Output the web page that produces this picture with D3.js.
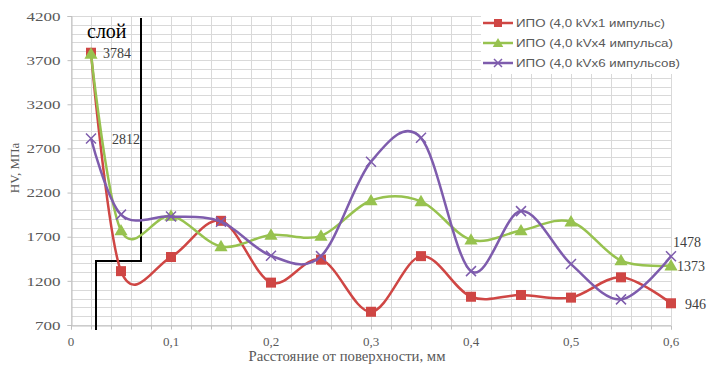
<!DOCTYPE html>
<html>
<head>
<meta charset="utf-8">
<script src="https://cdn.jsdelivr.net/npm/d3@7"></script>
<style>
  body { margin: 0; background: #fff; }
  svg { display: block; }
</style>
</head>
<body>
<div id="chart"></div>
<script>
const depths = [0.02, 0.05, 0.1, 0.15, 0.2, 0.25, 0.3, 0.35, 0.4, 0.45, 0.5, 0.55, 0.6];
const seriesNames = ['ИПО (4,0 kVx1 импульс)', 'ИПО (4,0 kVx4 импульса)', 'ИПО (4,0 kVx6 импульсов)'];
const hv1 = [3784, 1310, 1470, 1880, 1180, 1440, 850, 1480, 1020, 1040, 1010, 1240, 946];
const hv4 = [3770, 1770, 1935, 1590, 1720, 1710, 2110, 2100, 1665, 1770, 1870, 1430, 1373];
const hv6 = [2812, 1950, 1930, 1870, 1485, 1480, 2550, 2820, 1310, 1990, 1390, 990, 1478];
const yTicks = [700, 1200, 1700, 2200, 2700, 3200, 3700, 4200];
const xTicks = [0, 0.1, 0.2, 0.3, 0.4, 0.5, 0.6];
// value labels shown on the chart: [series index, point index]
const pointLabels = [[0, 0], [2, 0], [2, 12], [1, 12], [0, 12]];

const colors = ['#cf4644', '#97c24f', '#7e5cad'];
const markers = ['square', 'triangle', 'cross'];
const seriesValues = [hv1, hv4, hv6];

const width = 709;
const height = 366;
const margin = { top: 16, right: 38, bottom: 41, left: 71 };
const serif = 'Liberation Serif, Times New Roman, serif';

const x = d3.scaleLinear().domain([0, 0.6]).range([margin.left, width - margin.right]);
const y = d3.scaleLinear().domain([700, 4200]).range([height - margin.bottom, margin.top]);

const svg = d3.select('#chart').append('svg')
  .attr('width', width)
  .attr('height', height);

// grid
const grid = svg.append('g').attr('stroke', '#d9d9d9').attr('stroke-width', 1);
grid.selectAll('line.h')
  .data(d3.range(700, 4201, 100))
  .enter().append('line')
    .attr('x1', x(0)).attr('x2', x(0.6))
    .attr('y1', d => Math.round(y(d)) + 0.5).attr('y2', d => Math.round(y(d)) + 0.5);
grid.selectAll('line.v')
  .data(d3.range(0, 0.6001, 0.02))
  .enter().append('line')
    .attr('x1', d => Math.round(x(d)) + 0.5).attr('x2', d => Math.round(x(d)) + 0.5)
    .attr('y1', y(4200)).attr('y2', y(700));

// axes
const xAxis = svg.append('g')
  .attr('transform', `translate(0,${Math.round(y(700)) + 0.5})`)
  .call(d3.axisBottom(x).tickValues(d3.range(0, 0.6001, 0.02)).tickSize(4).tickFormat(''));
xAxis.select('.domain').attr('stroke', '#bfbfbf');
xAxis.selectAll('.tick line').attr('stroke', '#bfbfbf');

svg.append('g').selectAll('text')
  .data(xTicks)
  .enter().append('text')
    .attr('x', d => x(d))
    .attr('y', 346)
    .attr('text-anchor', 'middle')
    .attr('font-family', serif)
    .attr('font-size', 13)
    .attr('fill', '#595959')
    .text(d => d3.format('.1~f')(d).replace('.', ','));

const yAxis = svg.append('g')
  .attr('transform', `translate(${Math.round(x(0)) + 0.5},0)`)
  .call(d3.axisLeft(y).tickValues(yTicks).tickSize(4).tickFormat(d => d));
yAxis.select('.domain').attr('stroke', '#bfbfbf');
yAxis.selectAll('.tick line').attr('stroke', '#bfbfbf');
yAxis.selectAll('.tick text')
  .attr('x', -11)
  .attr('font-family', serif)
  .attr('font-size', 13)
  .attr('fill', '#595959')
  .attr('textLength', d => String(d).length * 8.5)
  .attr('lengthAdjust', 'spacingAndGlyphs');

svg.append('text')
  .attr('x', 347)
  .attr('y', 361)
  .attr('text-anchor', 'middle')
  .attr('font-family', serif)
  .attr('font-size', 14)
  .attr('fill', '#595959')
  .attr('textLength', 197)
  .attr('lengthAdjust', 'spacingAndGlyphs')
  .text('Расстояние от поверхности, мм');

svg.append('text')
  .attr('transform', 'translate(19,168) rotate(-90)')
  .attr('text-anchor', 'middle')
  .attr('font-family', serif)
  .attr('font-size', 13)
  .attr('fill', '#595959')
  .text('HV, МПа');

// layer boundary ("слой")
svg.append('path')
  .attr('d', 'M141,18 V261 H96 V330')
  .attr('fill', 'none')
  .attr('stroke', '#000')
  .attr('stroke-width', 2);

svg.append('text')
  .attr('x', 87)
  .attr('y', 38)
  .attr('font-family', serif)
  .attr('font-size', 20)
  .attr('fill', '#000')
  .text('слой');

// series
const line = d3.line()
  .x(d => x(d[0]))
  .y(d => y(d[1]))
  .curve(d3.curveCatmullRom.alpha(0));

function drawMarker(g, type, color, size) {
  if (type === 'square') {
    g.append('rect')
      .attr('x', -size / 2).attr('y', -size / 2)
      .attr('width', size).attr('height', size)
      .attr('fill', color);
  } else if (type === 'triangle') {
    g.append('path')
      .attr('d', d3.symbol(d3.symbolTriangle, size * size * 0.75)())
      .attr('transform', 'translate(0,1)')
      .attr('fill', color);
  } else {
    const r = size / 2;
    g.append('path')
      .attr('d', `M${-r},${-r}L${r},${r}M${-r},${r}L${r},${-r}`)
      .attr('stroke', color)
      .attr('stroke-width', 1.5);
  }
}

seriesValues.forEach((vals, i) => {
  const pts = depths.map((d, j) => [d, vals[j]]);
  svg.append('path')
    .attr('d', line(pts))
    .attr('fill', 'none')
    .attr('stroke', colors[i])
    .attr('stroke-width', 2.5);

  pts.forEach(p => {
    const g = svg.append('g').attr('transform', `translate(${x(p[0])},${y(p[1])})`);
    drawMarker(g, markers[i], colors[i], 10);
  });
});

// data labels
const labelOffsets = { '0,0': [12, 5], '2,0': [21, 5], '2,12': [2, -9], '1,12': [6, 5], '0,12': [14, 6] };
pointLabels.forEach(([s, j]) => {
  const off = labelOffsets[s + ',' + j];
  svg.append('text')
    .attr('x', x(depths[j]) + off[0])
    .attr('y', y(seriesValues[s][j]) + off[1])
    .attr('font-family', serif)
    .attr('font-size', 14)
    .attr('fill', '#404040')
    .text(seriesValues[s][j]);
});

// legend
const legend = svg.append('g');
legend.append('rect')
  .attr('x', 481).attr('y', 0)
  .attr('width', 228).attr('height', 74)
  .attr('fill', '#fff');

const legendY = [23, 43, 63];
const legendWidths = [149, 157, 164];
seriesNames.forEach((name, i) => {
  const g = legend.append('g').attr('transform', `translate(483,${legendY[i]})`);
  g.append('line')
    .attr('x1', 0).attr('x2', 30)
    .attr('stroke', colors[i])
    .attr('stroke-width', 2.5);
  const m = g.append('g').attr('transform', 'translate(15,0)');
  drawMarker(m, markers[i], colors[i], 8);
  g.append('text')
    .attr('x', 33)
    .attr('y', 4)
    .attr('font-family', 'Liberation Sans, Arial, sans-serif')
    .attr('font-size', 11)
    .attr('fill', '#595959')
    .attr('textLength', legendWidths[i])
    .attr('lengthAdjust', 'spacingAndGlyphs')
    .text(name);
});
</script>
</body>
</html>
